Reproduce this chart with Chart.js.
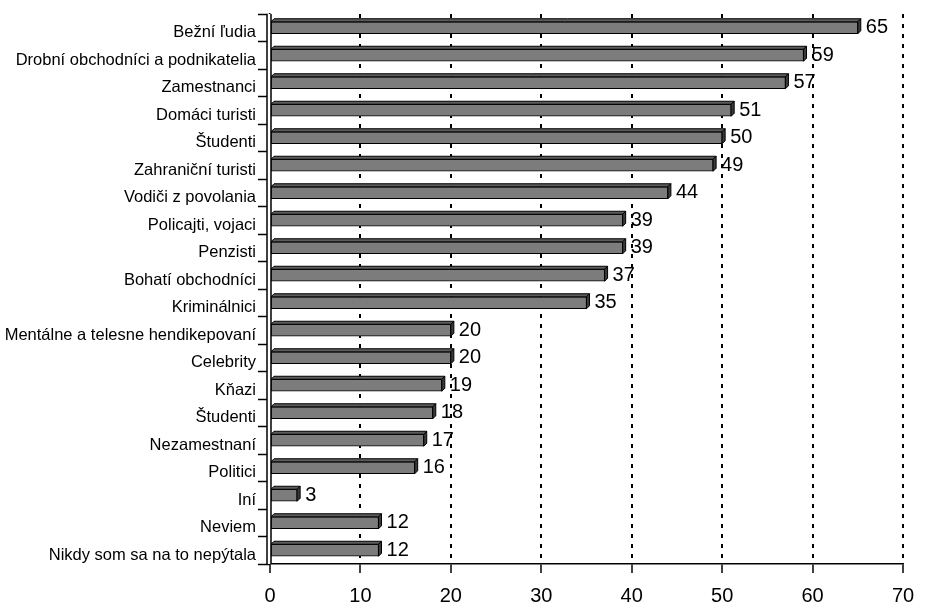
<!DOCTYPE html>
<html>
<head>
<meta charset="utf-8">
<script src="https://cdn.jsdelivr.net/npm/chart.js@4"></script>
<style>
    body { margin: 0; background: #ffffff; }
    #wrap { width: 943px; height: 605px; }
</style>
</head>
<body>
<div id="wrap"><canvas id="chart"></canvas></div>
<script>
const categories = [
    'Bežní ľudia',
    'Drobní obchodníci a podnikatelia',
    'Zamestnanci',
    'Domáci turisti',
    'Študenti',
    'Zahraniční turisti',
    'Vodiči z povolania',
    'Policajti, vojaci',
    'Penzisti',
    'Bohatí obchodníci',
    'Kriminálnici',
    'Mentálne a telesne hendikepovaní',
    'Celebrity',
    'Kňazi',
    'Študenti',
    'Nezamestnaní',
    'Politici',
    'Iní',
    'Neviem',
    'Nikdy som sa na to nepýtala'
];
const values = [65, 59, 57, 51, 50, 49, 44, 39, 39, 37, 35, 20, 20, 19, 18, 17, 16, 3, 12, 12];
const xTickValues = [0, 10, 20, 30, 40, 50, 60, 70];
const unitLabel = '%';

const FONT = "'Liberation Sans', Arial, sans-serif";
const DEPTH = 3;

// 3D look: top face, end cap, value labels, axis wall, unit sign
const bar3d = {
    id: 'bar3d',
    afterDatasetsDraw(chart) {
        const ctx = chart.ctx;
        const meta = chart.getDatasetMeta(0);
        ctx.save();
        ctx.lineWidth = 1;
        ctx.strokeStyle = '#000000';
        meta.data.forEach((bar, i) => {
            const p = bar.getProps(['x', 'y', 'base', 'height'], true);
            const top = p.y - p.height / 2;
            const bottom = p.y + p.height / 2;

            ctx.beginPath();
            ctx.moveTo(p.base, top);
            ctx.lineTo(p.x, top);
            ctx.lineTo(p.x + DEPTH, top - DEPTH);
            ctx.lineTo(p.base + DEPTH, top - DEPTH);
            ctx.closePath();
            ctx.fillStyle = '#5c5c5c';
            ctx.fill();
            ctx.stroke();

            ctx.beginPath();
            ctx.moveTo(p.x, top);
            ctx.lineTo(p.x + DEPTH, top - DEPTH);
            ctx.lineTo(p.x + DEPTH, bottom - DEPTH);
            ctx.lineTo(p.x, bottom);
            ctx.closePath();
            ctx.fillStyle = '#3a3a3a';
            ctx.fill();
            ctx.stroke();

            ctx.fillStyle = '#000000';
            ctx.font = '20px ' + FONT;
            ctx.textAlign = 'left';
            ctx.textBaseline = 'middle';
            ctx.fillText(String(values[i]), p.x + DEPTH + 5, p.y);
        });

        const area = chart.chartArea;
        ctx.fillStyle = '#ffffff';
        ctx.fillRect(area.left - 3, area.top, 4, area.bottom - area.top);
        ctx.lineWidth = 1.5;
        ctx.beginPath();
        ctx.moveTo(area.left - 3, area.bottom);
        ctx.lineTo(area.left - 3, area.top);
        ctx.moveTo(area.left + 1, area.bottom);
        ctx.lineTo(area.left + 1, area.top);
        ctx.stroke();

        ctx.font = '18px ' + FONT;
        ctx.textAlign = 'center';
        ctx.fillText(unitLabel, 927, 22);
        ctx.restore();
    }
};

new Chart(document.getElementById('chart'), {
    type: 'bar',
    data: {
        labels: categories,
        datasets: [{
            data: values,
            backgroundColor: '#7c7c7c',
            borderColor: '#000000',
            borderWidth: 1,
            borderSkipped: false,
            barThickness: 12
        }]
    },
    options: {
        indexAxis: 'y',
        responsive: true,
        maintainAspectRatio: false,
        animation: false,
        layout: { padding: { top: 14, right: 40, left: 0, bottom: 0 } },
        plugins: {
            legend: { display: false },
            tooltip: { enabled: false }
        },
        scales: {
            x: {
                min: 0,
                max: 70,
                afterBuildTicks: scale => {
                    scale.ticks = xTickValues.map(v => ({ value: v }));
                },
                afterFit: scale => { scale.height = 41; },
                grid: {
                    color: ctx => (ctx.tick && ctx.tick.value === 0) ? 'rgba(0,0,0,0)' : '#000000',
                    lineWidth: 2,
                    tickColor: '#000000',
                    tickWidth: 1.5,
                    tickLength: 9,
                    tickBorderDash: []
                },
                border: { display: true, color: '#000000', width: 1.5, dash: [4, 6] },
                ticks: {
                    color: '#000000',
                    padding: 11,
                    maxRotation: 0,
                    font: { family: FONT, size: 20 }
                }
            },
            y: {
                afterFit: scale => { scale.width = 270; },
                grid: {
                    offset: true,
                    drawOnChartArea: false,
                    tickColor: '#000000',
                    tickWidth: 1.5,
                    tickLength: 12
                },
                border: { display: true, color: '#000000', width: 1.5 },
                ticks: {
                    color: '#000000',
                    padding: 2,
                    labelOffset: 5,
                    autoSkip: false,
                    font: { family: FONT, size: 16.5 }
                }
            }
        }
    },
    plugins: [bar3d]
});
</script>
</body>
</html>
